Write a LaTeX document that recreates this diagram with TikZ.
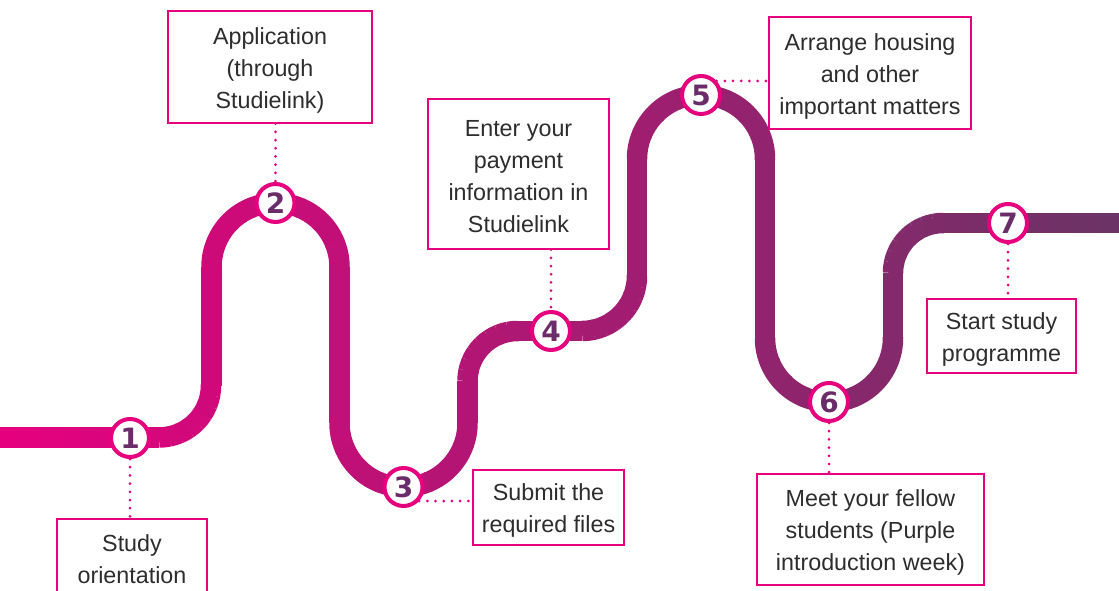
\documentclass[tikz,border=0pt]{standalone}
\usepackage{fontspec}
\setmainfont{Liberation Sans}
\newfontfamily\numfont{DejaVu Sans}
\definecolor{colA}{RGB}{230,0,126}
\definecolor{colB}{RGB}{106,52,102}
\definecolor{numcol}{RGB}{107,45,105}
\definecolor{txtcol}{RGB}{45,45,45}
\tikzset{
  roadstyle/.style={line width=20.5pt, line cap=butt},
  numc/.style={circle, draw=colA, line width=4pt, fill=white, minimum size=38pt, inner sep=0pt,
     font=\numfont\bfseries\fontsize{28}{28}\selectfont, text=numcol},
  boxs/.style={draw=colA, line width=1.3pt, fill=white, inner sep=0pt, align=center,
     font=\fontsize{23.3}{32}\selectfont, text=txtcol},
  boxtext/.style={inner sep=0pt, align=center, font=\fontsize{23.3}{32}\selectfont, text=txtcol, yshift=-3pt},
  dotc/.style={draw=colA, line width=3pt, line cap=round, dash pattern=on 0pt off 8.2pt}
}
\newcommand\roadarc[5]{%
  \foreach \k in {0,...,7}{%
    \pgfmathsetmacro\angA{#4+(#5-#4)*\k/8}%
    \pgfmathsetmacro\angB{#4+(#5-#4)*(\k+1)/8+((#5-#4)>0?1:-1)*0.8}%
    \pgfmathsetmacro\xmid{#1+#3*cos((\angA+\angB)/2)}%
    \pgfmathtruncatemacro\pct{\xmid/1119*100}%
    \draw[roadstyle, draw=colB!\pct!colA] ({#1+#3*cos(\angA)},{#2+#3*sin(\angA)}) arc[start angle=\angA, end angle=\angB, radius=#3];
  }}
\newcommand\roadline[5]{%
  \foreach \k in {1,...,#5}{%
    \pgfmathsetmacro\tA{(\k-1)/#5}%
    \pgfmathsetmacro\tB{min(\k/#5+0.02,1)}%
    \pgfmathsetmacro\xmid{#1+(#3-#1)*(\tA+\tB)/2}%
    \pgfmathtruncatemacro\pct{\xmid/1119*100}%
    \draw[roadstyle, draw=colB!\pct!colA] ({#1+(#3-#1)*\tA},{#2+(#4-#2)*\tA}) -- ({#1+(#3-#1)*\tB},{#2+(#4-#2)*\tB});
  }}
\begin{document}
\begin{tikzpicture}[x=1pt,y=-1pt]
\useasboundingbox (0,0) rectangle (1119,591);
% road
\roadline{0}{437.5}{159}{437.5}{8}
\roadarc{159}{385.5}{52}{90}{0}
\roadline{211.5}{385.5}{211.5}{267}{1}
\roadarc{275.5}{267}{64}{180}{360}
\roadline{339.5}{267}{339.5}{423}{1}
\roadarc{403.5}{423}{64}{180}{0}
\roadline{467.5}{423}{467.5}{381}{1}
\roadarc{517.5}{381}{50}{180}{270}
\roadline{517.5}{331}{582}{331}{4}
\roadarc{582}{276}{55}{90}{0}
\roadline{637}{276}{637}{159}{1}
\roadarc{701}{159}{64}{180}{360}
\roadline{765}{159}{765}{338}{1}
\roadarc{829}{338}{64}{180}{0}
\roadline{893}{338}{893}{273}{1}
\roadarc{943}{273}{50}{180}{270}
\roadline{943}{223}{1119}{223}{8}
% circles
\node[numc] (c1) at (130,438) {1};
\node[numc] (c2) at (275.5,203) {2};
\node[numc] (c3) at (403.5,487) {3};
\node[numc] (c4) at (551,331) {4};
\node[numc] (c5) at (701,95) {5};
\node[numc] (c6) at (829,402) {6};
\node[numc] (c7) at (1008,223) {7};
% boxes
\node[boxs, minimum width=150pt, minimum height=75pt] (b1) at (132,556.5) {};
\node[boxtext] (t1) at (b1) {Study\\orientation};
\node[boxs, minimum width=204pt, minimum height=112pt] (b2) at (270,67) {};
\node[boxtext] (t2) at (b2) {Application\\(through\\Studielink)};
\node[boxs, minimum width=151pt, minimum height=75pt] (b3) at (548.5,507.5) {};
\node[boxtext] (t3) at (b3) {Submit the\\required files};
\node[boxs, minimum width=181pt, minimum height=150pt] (b4) at (518.5,174) {};
\node[boxtext] (t4) at (b4) {Enter your\\payment\\information in\\Studielink};
\node[boxs, minimum width=202pt, minimum height=112pt] (b5) at (870,73) {};
\node[boxtext] (t5) at (b5) {Arrange housing\\and other\\important matters};
\node[boxs, minimum width=227pt, minimum height=111pt] (b6) at (870.5,529.5) {};
\node[boxtext] (t6) at (b6) {Meet your fellow\\students (Purple\\introduction week)};
\node[boxs, minimum width=149pt, minimum height=74pt] (b7) at (1001.5,336) {};
\node[boxtext] (t7) at (b7) {Start study\\programme};
% connectors
\draw[dotc] (c1.south) -- (c1.south |- b1.north);
\draw[dotc] (c2.north |- b2.south) -- (c2.north);
\draw[dotc] (c3.-42) -- (c3.-42 -| b3.west);
\draw[dotc] (c4.north |- b4.south) -- (c4.north);
\draw[dotc] (c5.42) -- (c5.42 -| b5.west);
\draw[dotc] (c6.south) -- (c6.south |- b6.north);
\draw[dotc] (c7.south) -- (c7.south |- b7.north);
\end{tikzpicture}
\end{document}
